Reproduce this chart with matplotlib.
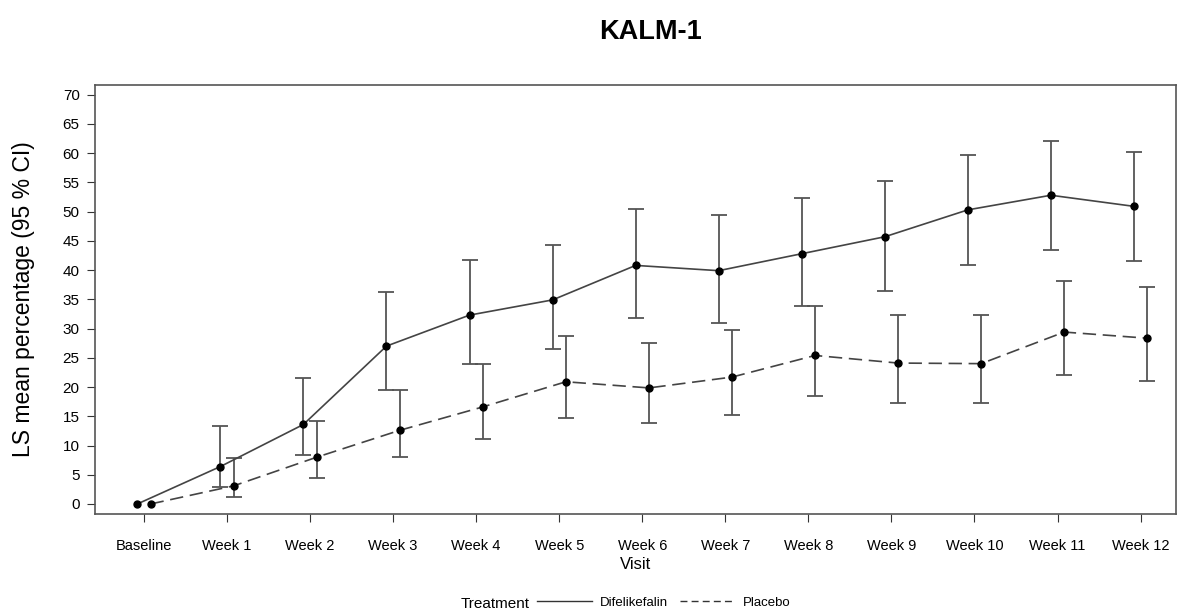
import numpy as np
import matplotlib.pyplot as plt
from matplotlib.lines import Line2D

plt.rcParams['font.family'] = ['Liberation Sans', 'DejaVu Sans']

visits = ['Baseline', 'Week 1', 'Week 2', 'Week 3', 'Week 4', 'Week 5', 'Week 6',
          'Week 7', 'Week 8', 'Week 9', 'Week 10', 'Week 11', 'Week 12']

# Difelikefalin LS mean and 95% CI
dif_mean = [0, 6.4, 13.6, 27.0, 32.3, 34.9, 40.8, 39.9, 42.8, 45.7, 50.3, 52.8, 50.9]
dif_low = [0, 2.9, 8.3, 19.5, 24.0, 26.5, 31.8, 30.9, 33.8, 36.4, 40.8, 43.4, 41.6]
dif_high = [0, 13.4, 21.6, 36.3, 41.8, 44.3, 50.4, 49.5, 52.4, 55.3, 59.6, 62.0, 60.2]

# Placebo LS mean and 95% CI
pbo_mean = [0, 3.1, 8.0, 12.6, 16.6, 20.9, 19.85, 21.7, 25.4, 24.1, 24.0, 29.4, 28.35]
pbo_low = [0, 1.2, 4.4, 8.0, 11.1, 14.7, 13.9, 15.3, 18.5, 17.3, 17.3, 22.0, 21.0]
pbo_high = [0, 7.8, 14.2, 19.5, 24.0, 28.8, 27.6, 29.8, 33.8, 32.4, 32.3, 38.1, 37.1]

fig = plt.figure(figsize=(11.87, 6.14), dpi=100)
ax = fig.add_axes([0.080, 0.163, 0.911, 0.699])

x = np.arange(len(visits))
off = 0.08

def draw(xs, mean, low, high, ls, label):
    mean = np.array(mean)
    yerr = np.vstack([mean - np.array(low), np.array(high) - mean])
    has_ci = np.array(high) > np.array(low)
    ax.errorbar(xs[has_ci], mean[has_ci], yerr=yerr[:, has_ci], fmt='none',
                ecolor='#555555', elinewidth=1.3, capsize=6, capthick=1.3, zorder=2)
    ax.plot(xs, mean, color='#444444', linestyle=ls, linewidth=1.2,
            marker='o', markersize=5, markerfacecolor='black', markeredgecolor='black',
            label=label, zorder=3)

draw(x - off, dif_mean, dif_low, dif_high, '-', 'Difelikefalin')
draw(x + off, pbo_mean, pbo_low, pbo_high, (0, (8, 4)), 'Placebo')

ax.set_xlim(-0.59, 12.43)
ax.set_ylim(-1.7, 71.7)
ax.set_xticks(x)
ax.set_xticklabels(visits, fontsize=10.5)
ax.set_yticks(np.arange(0, 71, 5))
ax.tick_params(axis='y', labelsize=11, length=6, pad=5, color='#333333')
ax.tick_params(axis='x', length=6, pad=12, color='#333333')
for s in ax.spines.values():
    s.set_color('#555555')
    s.set_linewidth(1.2)

ax.set_xlabel('Visit', fontsize=12, labelpad=3)
ax.set_ylabel('LS mean percentage (95 % CI)', fontsize=16.5, labelpad=20)

fig.text(0.548, 0.948, 'KALM-1', fontsize=19.5, fontweight='bold', ha='center', va='center')

fig.text(0.417, 0.016, 'Treatment', fontsize=11, ha='center', va='center')
labels = ['Difelikefalin', 'Placebo']
h = [Line2D([], [], color='#333333', linestyle='-', linewidth=1),
     Line2D([], [], color='#333333', linestyle=(0, (5, 3)), linewidth=1)]
fig.legend(h, labels, loc='center left', bbox_to_anchor=(0.452, 0.018), ncol=2,
           frameon=False, fontsize=9.5, handlelength=4.2, handletextpad=0.6,
           columnspacing=0.9, borderpad=0, borderaxespad=0)

fig.savefig('out.png', dpi=100)
